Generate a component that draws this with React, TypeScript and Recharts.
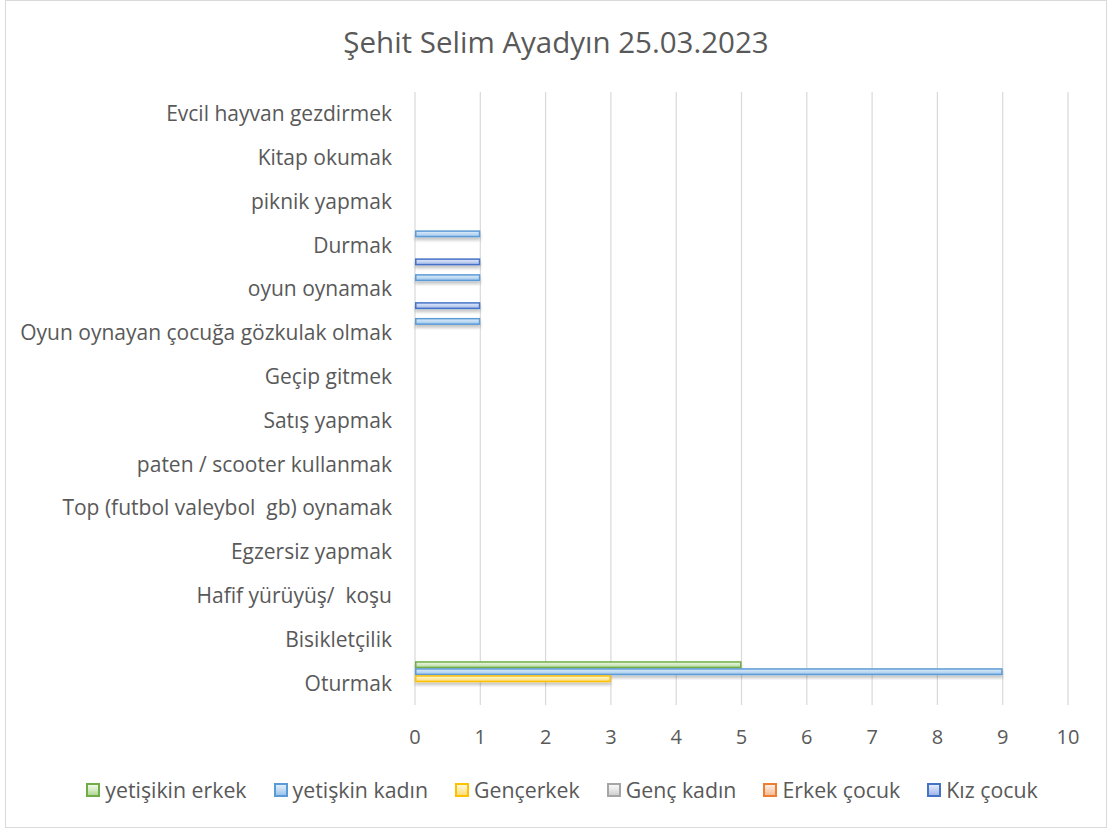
import React from 'react';
import { BarChart, Bar, XAxis, YAxis, CartesianGrid, Legend } from 'recharts';

const categories = [
  'Evcil hayvan gezdirmek',
  'Kitap okumak',
  'piknik yapmak',
  'Durmak',
  'oyun oynamak',
  'Oyun oynayan çocuğa gözkulak olmak',
  'Geçip gitmek',
  'Satış yapmak',
  'paten / scooter kullanmak',
  'Top (futbol valeybol  gb) oynamak',
  'Egzersiz yapmak',
  'Hafif yürüyüş/  koşu',
  'Bisikletçilik',
  'Oturmak',
];

const yetiskinErkek = [0, 0, 0, 0, 0, 0, 0, 0, 0, 0, 0, 0, 0, 5];
const yetiskinKadin = [0, 0, 0, 1, 1, 1, 0, 0, 0, 0, 0, 0, 0, 9];
const gencErkek = [0, 0, 0, 0, 0, 0, 0, 0, 0, 0, 0, 0, 0, 3];
const gencKadin = [0, 0, 0, 0, 0, 0, 0, 0, 0, 0, 0, 0, 0, 0];
const erkekCocuk = [0, 0, 0, 0, 0, 0, 0, 0, 0, 0, 0, 0, 0, 0];
const kizCocuk = [0, 0, 0, 1, 1, 0, 0, 0, 0, 0, 0, 0, 0, 0];

const xTicks = [0, 1, 2, 3, 4, 5, 6, 7, 8, 9, 10];
const title = 'Şehit Selim Ayadyın 25.03.2023';

const seriesDefs = [
  { key: 's1', name: 'yetişikin erkek', values: yetiskinErkek, stroke: '#70AD47', top: '#eef7e8', mid: '#d3eac3', bottom: '#b2d796' },
  { key: 's2', name: 'yetişkin kadın', values: yetiskinKadin, stroke: '#5B9BD5', top: '#e1eefa', mid: '#bfdaf3', bottom: '#9cc4ec' },
  { key: 's3', name: 'Gençerkek', values: gencErkek, stroke: '#FFC000', top: '#fff8dc', mid: '#ffeba8', bottom: '#ffdc7e' },
  { key: 's4', name: 'Genç kadın', values: gencKadin, stroke: '#A5A5A5', top: '#f7f7f7', mid: '#e6e6e6', bottom: '#d0d0d0' },
  { key: 's5', name: 'Erkek çocuk', values: erkekCocuk, stroke: '#ED7D31', top: '#fdeee4', mid: '#f9d4bb', bottom: '#f5bb95' },
  { key: 's6', name: 'Kız çocuk', values: kizCocuk, stroke: '#4472C4', top: '#e4ebfa', mid: '#c3d1f2', bottom: '#a3b8ea' },
];

const data = categories.map((c, i) => {
  const row: any = { name: c };
  seriesDefs.forEach((s) => {
    row[s.key] = s.values[i];
  });
  return row;
});

const TEXT = '#595959';
const FONT = "'Open Sans', sans-serif";

const makeShape = (s: any) => (props: any) => {
  const { x, y, width, height } = props;
  if (!width || width <= 0) return null;
  return (
    <g>
      <rect
        x={x + 0.75}
        y={y + 0.75}
        width={Math.max(width - 1.5, 0)}
        height={Math.max(height - 1.5, 0)}
        fill={`url(#grad-${s.key})`}
        stroke={s.stroke}
        strokeWidth={1.5}
        filter="url(#barShadow)"
      />
    </g>
  );
};

const YTick = (props: any) => {
  const { x, y, payload } = props;
  return (
    <text
      x={x}
      y={y}
      dy="0.355em"
      textAnchor="end"
      fill={TEXT}
      fontSize={21}
      fontFamily={FONT}
      style={{ whiteSpace: 'pre' }}
      xmlSpace="preserve"
    >
      {payload.value}
    </text>
  );
};

const LegendContent = () => (
  <div
    style={{
      display: 'flex',
      justifyContent: 'center',
      alignItems: 'center',
      fontFamily: FONT,
      fontSize: 21.3,
      color: TEXT,
      lineHeight: '28px',
      paddingLeft: 12,
    }}
  >
    {seriesDefs.map((s, i) => (
      <div
        key={s.key}
        style={{ display: 'flex', alignItems: 'center', marginRight: i === seriesDefs.length - 1 ? 0 : 27 }}
      >
        <span
          style={{
            display: 'inline-block',
            width: 10,
            height: 10,
            border: `2px solid ${s.stroke}`,
            background: `linear-gradient(${s.top}, ${s.mid}, ${s.bottom})`,
            marginRight: 5,
          }}
        />
        <span style={{ whiteSpace: 'pre' }}>{s.name}</span>
      </div>
    ))}
  </div>
);

export default function App() {
  return (
    <div
      style={{
        position: 'absolute',
        left: 0,
        top: 0,
        width: 1112,
        height: 832,
        background: '#fff',
        fontFamily: FONT,
      }}
    >
      <div
        style={{
          position: 'absolute',
          left: 5,
          top: 0,
          width: 1102,
          height: 828,
          border: '1px solid #d9d9d9',
          boxSizing: 'border-box',
        }}
      />
      <div
        style={{
          position: 'absolute',
          left: 0,
          top: 22,
          width: 1112,
          textAlign: 'center',
          fontSize: 29.5,
          lineHeight: '40px',
          color: TEXT,
          fontFamily: FONT,
        }}
      >
        {title}
      </div>
      <div style={{ position: 'absolute', left: 0, top: 0 }}>
        <BarChart
          width={1112}
          height={832}
          data={data}
          layout="vertical"
          margin={{ top: 92, right: 44, bottom: 97, left: 5 }}
          barCategoryGap={0}
          barGap={0}
        >
          <defs>
            {seriesDefs.map((s) => (
              <linearGradient key={s.key} id={`grad-${s.key}`} x1="0" y1="0" x2="0" y2="1">
                <stop offset="0%" stopColor={s.top} />
                <stop offset="50%" stopColor={s.mid} />
                <stop offset="100%" stopColor={s.bottom} />
              </linearGradient>
            ))}
            <filter id="barShadow" x="-5%" y="-50%" width="110%" height="250%">
              <feDropShadow dx="0" dy="3" stdDeviation="1.5" floodColor="#000" floodOpacity="0.22" />
            </filter>
          </defs>
          <CartesianGrid horizontal={false} stroke="#d9d9d9" strokeWidth={1.2} />
          <XAxis
            type="number"
            domain={[0, 10]}
            ticks={xTicks}
            interval={0}
            axisLine={false}
            tickLine={false}
            tickSize={6}
            tickMargin={19}
            height={30}
            tick={{ fill: TEXT, fontSize: 20, fontFamily: FONT }}
          />
          <YAxis
            type="category"
            dataKey="name"
            width={410}
            interval={0}
            axisLine={false}
            tickLine={false}
            tickSize={6}
            tickMargin={17}
            tick={<YTick />}
          />
          {seriesDefs.map((s) => (
            <Bar
              key={s.key}
              dataKey={s.key}
              name={s.name}
              fill={s.mid}
              stroke={s.stroke}
              isAnimationActive={false}
              shape={makeShape(s)}
            />
          ))}
          <Legend
            layout="horizontal"
            verticalAlign="middle"
            align="center"
            wrapperStyle={{ top: 776, left: 0, width: 1112 }}
            content={LegendContent}
          />
        </BarChart>
      </div>
    </div>
  );
}
